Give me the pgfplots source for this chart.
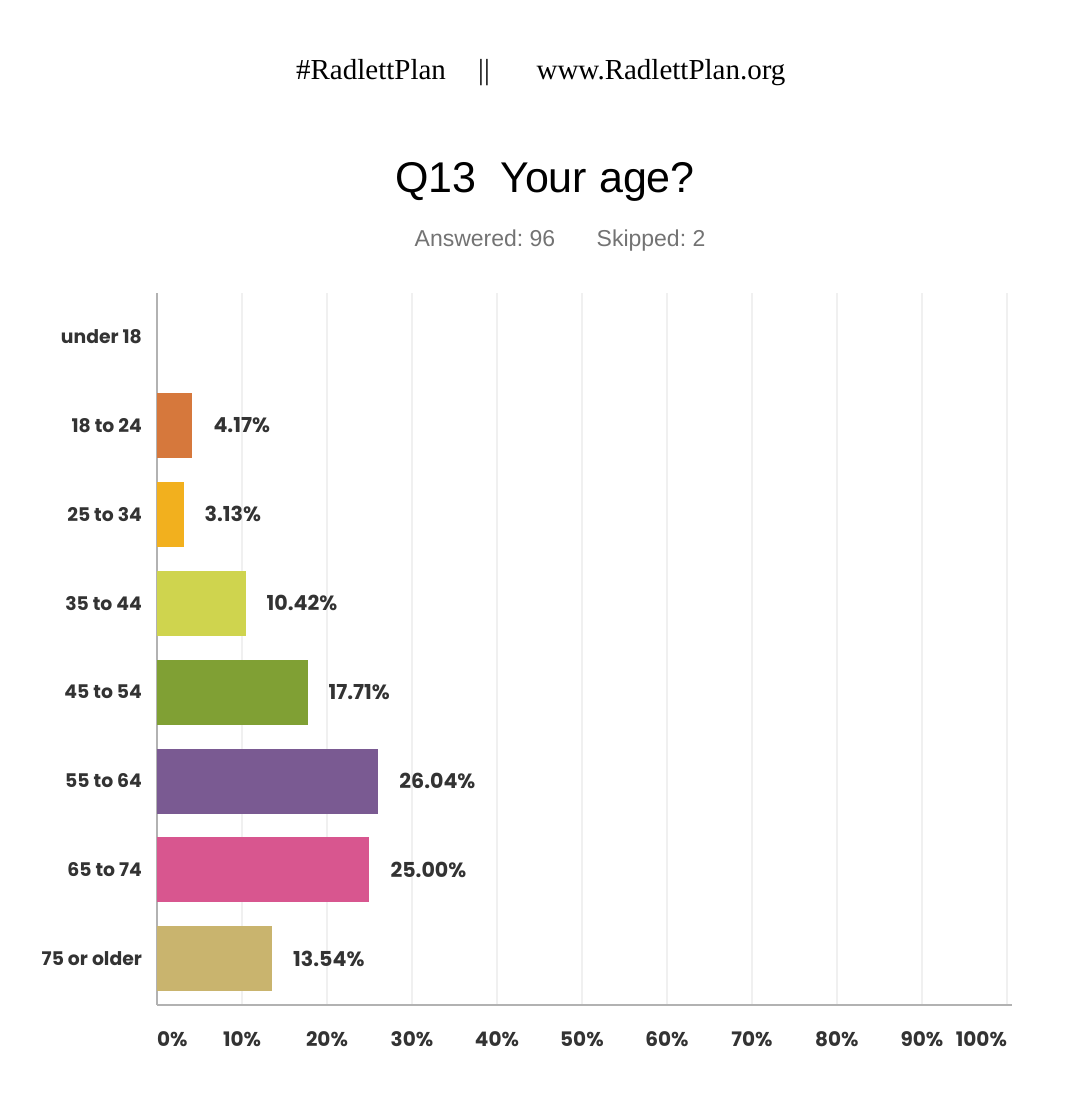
\documentclass[border=0pt]{standalone}
\usepackage{fontspec}
\setmainfont{Liberation Serif}
\newfontfamily\ars{Liberation Sans}
\newfontfamily\pop{Poppins}
\usepackage{pgfplots}
\pgfplotsset{compat=1.18}

\definecolor{c1}{HTML}{D6783C}
\definecolor{c2}{HTML}{F2B01E}
\definecolor{c3}{HTML}{CFD44E}
\definecolor{c4}{HTML}{80A034}
\definecolor{c5}{HTML}{7A5A92}
\definecolor{c6}{HTML}{D8568F}
\definecolor{c7}{HTML}{C9B46E}
\definecolor{txt}{HTML}{333333}
\definecolor{gridc}{HTML}{F0F0F0}

\pgfplotsset{
  agebar/.style={xbar, bar width=32.5pt, bar shift=0pt, draw=none},
}

\begin{document}
\frenchspacing
\begin{tikzpicture}
% canvas 1082x1102 px at 0.5pt per px
\useasboundingbox (0,0) rectangle (541pt,551pt);

\node[anchor=base, font=\fontsize{14.5}{16}\selectfont] at (185.5pt,511pt) {\#RadlettPlan};
\node[anchor=base, font=\fontsize{14.5}{16}\selectfont] at (242pt,511pt) {||};
\node[anchor=base, font=\fontsize{14.5}{16}\selectfont] at (330.5pt,511pt) {www.RadlettPlan.org};
\node[anchor=base, font=\ars\fontsize{21.5}{24}\selectfont] at (272.5pt,454.5pt) {Q13\ \ Your age?};
\node[anchor=base, font=\ars\fontsize{11.5}{13}\selectfont, text=black!55] at (242.5pt,427.5pt) {Answered: 96};
\node[anchor=base, font=\ars\fontsize{11.5}{13}\selectfont, text=black!55] at (325.5pt,427.5pt) {Skipped: 2};

\begin{axis}[
    at={(78.5pt,48.5pt)}, anchor=south west,
    scale only axis,
    width=427.5pt, height=356pt,
    xmin=0, xmax=100.6,
    ymin=-0.49, ymax=7.52,
    y dir=reverse,
    axis x line*=bottom, axis y line*=left,
    axis line style={draw=black!30, line width=0.6pt},
    major tick length=0pt,
    xtick={0,10,...,100},
    xticklabels={\makebox[0pt][l]{0\%},10\%,20\%,30\%,40\%,50\%,60\%,70\%,80\%,90\%,\makebox[0pt][r]{100\%}},
    ytick={0,...,7},
    yticklabels={under 18,18 to 24,25 to 34,35 to 44,45 to 54,55 to 64,65 to 74,75 or older},
    tick label style={text=txt},
    xticklabel style={font=\pop\bfseries\fontsize{10}{12}\selectfont, yshift=-9pt, text height=8pt, text depth=1pt},
    yticklabel style={font=\pop\bfseries\fontsize{9.4}{11}\selectfont, xshift=-4pt},
    xmajorgrids,
    x grid style={draw=gridc, line width=1pt},
    point meta=x,
    nodes near coords={\pgfmathprintnumber[fixed,zerofill,precision=2,assume math mode=true]{\pgfplotspointmeta}\%},
    nodes near coords align={horizontal},
    every node near coord/.append style={font=\pop\bfseries\fontsize{10.3}{12}\selectfont, text=txt, anchor=west, xshift=7pt},
    clip=false,
]
\addplot[agebar, fill=c1] coordinates {(4.17,1)};
\addplot[agebar, fill=c2] coordinates {(3.13,2)};
\addplot[agebar, fill=c3] coordinates {(10.42,3)};
\addplot[agebar, fill=c4] coordinates {(17.71,4)};
\addplot[agebar, fill=c5] coordinates {(26.04,5)};
\addplot[agebar, fill=c6] coordinates {(25.00,6)};
\addplot[agebar, fill=c7] coordinates {(13.54,7)};
\end{axis}
\end{tikzpicture}
\end{document}
